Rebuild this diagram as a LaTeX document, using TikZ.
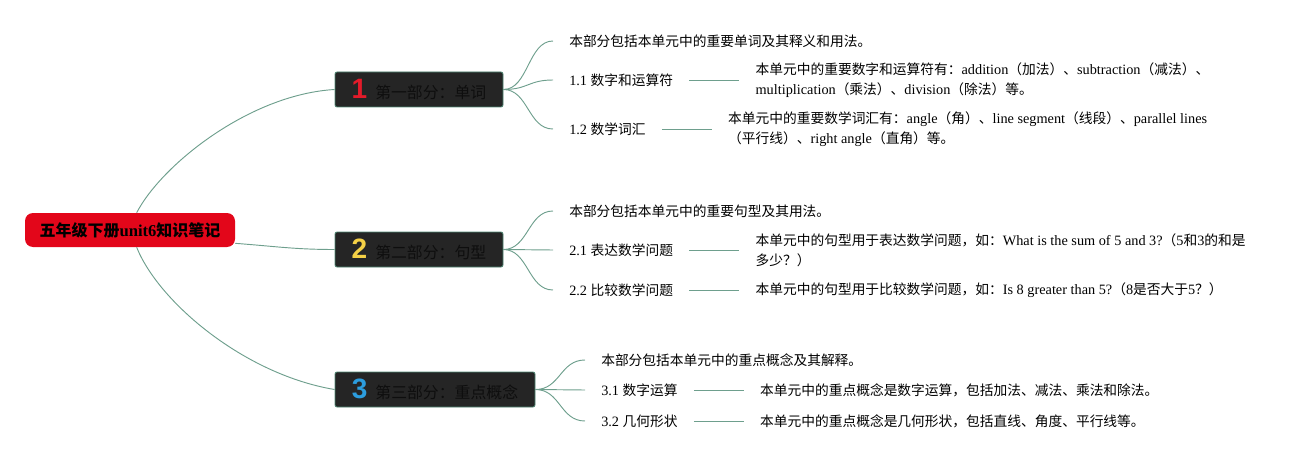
\documentclass[tikz,border=0pt]{standalone}
\usepackage{fontspec}
\usepackage{tikz}
\usetikzlibrary{positioning}
\setmainfont{Liberation Serif}[Scale=1.04]
\newfontfamily\lat{Liberation Serif}[Scale=1.04]
\newfontfamily\cjk{Noto Sans CJK SC}
\newfontfamily\numfont{Liberation Sans}
% Chinese characters and full-width punctuation go to the CJK font
\XeTeXinterchartokenstate=1
\newXeTeXintercharclass\CJKclass
\newcount\cjkcode
\newcommand{\setcjkrange}[2]{%
  \cjkcode=#1\relax
  \loop
    \XeTeXcharclass\cjkcode=\CJKclass
    \ifnum\cjkcode<#2\relax
    \advance\cjkcode by 1
  \repeat}
\setcjkrange{"4E00}{"9FFF}
\setcjkrange{"3000}{"303F}
\setcjkrange{"FF00}{"FFEF}
\XeTeXinterchartoks 0 \CJKclass = {\cjk}
\XeTeXinterchartoks 4095 \CJKclass = {\cjk}
\XeTeXinterchartoks \CJKclass 0 = {\lat}
\XeTeXinterchartoks \CJKclass 4095 = {\lat}
\definecolor{MapRed}{HTML}{E3061A}
\definecolor{MapDark}{HTML}{252525}
\definecolor{MapEdge}{HTML}{4F8873}
\definecolor{MapLine}{HTML}{6E9F8D}
\definecolor{BoxText}{HTML}{0E0E0E}
\definecolor{NumRed}{HTML}{E31B2A}
\definecolor{NumYellow}{HTML}{F4D046}
\definecolor{NumBlue}{HTML}{2C9DDE}
\newcommand{\partlabel}[2]{{\numfont\bfseries\fontsize{21}{21}\selectfont\color{#1}#2}\hspace{6pt}}

\begin{document}
\begin{tikzpicture}[x=0.75pt,y=-0.75pt,
    link/.style={MapLine,line width=0.7pt},
    rootbox/.style={fill=MapRed,rounded corners=6pt,minimum width=157.5pt,minimum height=25.5pt,font=\fontsize{12}{14}\selectfont\bfseries,text=black},
    partbox/.style={draw=MapEdge,line width=0.6pt,fill=MapDark,rounded corners=1.5pt,minimum height=26.25pt,font=\fontsize{11.9}{14}\selectfont,text=BoxText},
    leaf/.style={anchor=west,inner xsep=12pt,inner ysep=2pt,font=\fontsize{10.3}{15}\selectfont},
    detail/.style={leaf,align=left}]
  \useasboundingbox (0,0) rectangle (1314,460);
  \node[rootbox] (root) at (130,230) {五年级下册unit6知识笔记};
  \node[partbox,minimum width=126pt] (words) at (419,89.5) {\partlabel{NumRed}{1}第一部分：单词};
  \node[partbox,minimum width=126pt] (sentences) at (419,249.5) {\partlabel{NumYellow}{2}第二部分：句型};
  \node[partbox,minimum width=150pt] (concepts) at (435,389.5) {\partlabel{NumBlue}{3}第三部分：重点概念};
  % part 1
  \node[leaf] (wordsintro) at (553,41) {本部分包括本单元中的重要单词及其释义和用法。};
  \node[leaf] (numbers) at (553,80) {1.1 数字和运算符};
  \node[detail,right=37.5pt of numbers] (numbersinfo) {本单元中的重要数字和运算符有：addition（加法）、subtraction（减法）、\\multiplication（乘法）、division（除法）等。};
  \node[leaf] (vocab) at (553,129) {1.2 数学词汇};
  \node[detail,right=37.5pt of vocab] (vocabinfo) {本单元中的重要数学词汇有：angle（角）、line segment（线段）、parallel lines\\（平行线）、right angle（直角）等。};
  % part 2
  \node[leaf] (sentintro) at (553,211) {本部分包括本单元中的重要句型及其用法。};
  \node[leaf] (express) at (553,250) {2.1 表达数学问题};
  \node[detail,right=37.5pt of express] (expressinfo) {本单元中的句型用于表达数学问题，如：What is the sum of 5 and 3?（5和3的和是\\多少？）};
  \node[leaf] (compare) at (553,290) {2.2 比较数学问题};
  \node[detail,right=37.5pt of compare] (compareinfo) {本单元中的句型用于比较数学问题，如：Is 8 greater than 5?（8是否大于5？）};
  % part 3
  \node[leaf] (conceptintro) at (585,360) {本部分包括本单元中的重点概念及其解释。};
  \node[leaf] (operations) at (585,390) {3.1 数字运算};
  \node[detail,right=37.5pt of operations] (operationsinfo) {本单元中的重点概念是数字运算，包括加法、减法、乘法和除法。};
  \node[leaf] (shapes) at (585,421) {3.2 几何形状};
  \node[detail,right=37.5pt of shapes] (shapesinfo) {本单元中的重点概念是几何形状，包括直线、角度、平行线等。};
  % connectors
  \draw[link] ([xshift=5pt]root.north) .. controls +(25,-48) and +(-85,5) .. (words.west);
  \draw[link] ([yshift=-10pt]root.east) .. controls +(40,3) and +(-40,0) .. (sentences.west);
  \draw[link] ([xshift=5pt]root.south) .. controls +(22,55) and +(-90,-15) .. (concepts.west);
  \foreach \leafnode in {wordsintro,numbers,vocab}
    \draw[link] (words.east) .. controls +(25,0) and +(-25,0) .. (\leafnode.west);
  \foreach \leafnode in {sentintro,express,compare}
    \draw[link] (sentences.east) .. controls +(25,0) and +(-25,0) .. (\leafnode.west);
  \foreach \leafnode in {conceptintro,operations,shapes}
    \draw[link] (concepts.east) .. controls +(25,0) and +(-25,0) .. (\leafnode.west);
  \foreach \a/\b in {numbers/numbersinfo,vocab/vocabinfo,express/expressinfo,compare/compareinfo,operations/operationsinfo,shapes/shapesinfo}
    \draw[link] (\a.east) -- (\b.west);
\end{tikzpicture}
\end{document}
